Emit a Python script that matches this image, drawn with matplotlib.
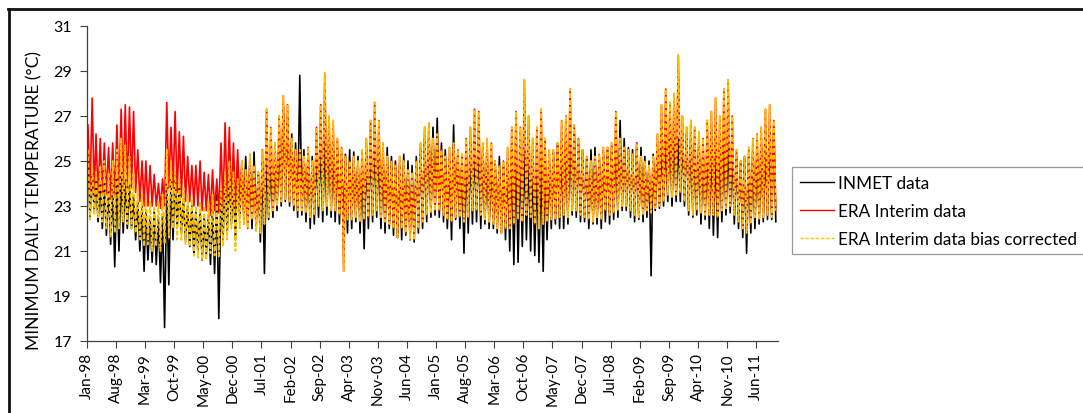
import numpy as np
import matplotlib
matplotlib.use("Agg")
import matplotlib.pyplot as plt
from matplotlib.lines import Line2D

plt.rcParams['font.family'] = ['Lato', 'DejaVu Sans']

# monthly envelope (high / low), Jan-1998 .. Oct-2011
inmet_hi = [
    25.2, 24.5, 24.2, 24.0, 24.0, 23.8, 24.0, 24.3, 24.5, 24.2, 24.0, 23.5,
    23.2, 23.0, 22.8, 22.5, 22.8, 22.5, 22.6, 24.0, 24.2, 24.5, 24.0, 23.3,
    23.0, 23.0, 22.8, 22.8, 22.5, 22.6, 23.0, 23.5, 23.8, 24.5, 24.3, 24.0,
    25.0, 24.8, 25.2, 25.0, 25.4, 24.5, 25.0,
    25.5, 25.0, 25.2, 26.0, 27.4, 26.9, 26.2, 25.8, 28.8, 25.5, 25.4, 25.2,
    25.5, 25.8, 26.0, 26.2, 25.8, 25.5, 25.3, 25.3, 25.5, 25.4, 25.2, 25.0,
    25.5, 25.8, 26.0, 25.5, 25.3, 25.6, 25.2, 25.0, 24.8, 25.3, 25.0, 24.8,
    25.2, 25.5, 26.0, 26.2, 26.5,
    26.9, 25.8, 25.5, 25.0, 26.6, 25.3, 25.0, 25.2, 25.5, 25.8, 26.0, 25.6,
    25.2, 25.0, 25.0, 25.2, 24.8, 25.0, 25.3, 25.5, 25.2, 25.5, 25.2, 24.8,
    24.6, 25.0, 25.2, 25.0, 25.4, 25.8, 25.5, 26.0, 26.2, 26.3, 25.8, 25.5,
    25.2, 25.5, 25.6, 25.2, 25.4,
    25.5, 25.6, 25.8, 26.8, 26.0, 25.6, 25.5, 25.8, 25.6, 25.2, 25.0, 25.3,
    25.5, 25.8, 26.0, 26.5, 26.3, 26.0, 26.2, 26.2, 26.0, 25.8, 25.8, 25.5,
    25.6, 25.8, 25.5, 25.8, 26.0, 25.8, 25.5, 25.2, 25.0, 25.2, 25.3, 25.5,
    25.6, 25.8, 25.6, 26.2, 26.5,
]
inmet_lo = [
    22.5, 22.8, 22.3, 22.0, 21.7, 21.3, 20.3, 21.0, 21.8, 22.0, 22.0, 21.5,
    21.0, 20.1, 20.6, 20.5, 20.4, 19.6, 17.6, 19.5, 21.5, 22.0, 21.8, 21.5,
    21.2, 20.8, 21.0, 20.6, 20.8, 20.4, 20.0, 18.0, 21.5, 21.8, 22.2, 21.5,
    22.5, 22.5, 22.3, 22.0, 22.3, 21.4, 20.0,
    22.4, 22.5, 22.8, 23.0, 23.2, 23.0, 22.8, 22.5, 22.6, 22.3, 22.0, 22.2,
    22.5, 22.3, 22.6, 22.5, 22.3, 22.2, 22.0, 21.8, 22.0, 22.3, 21.8, 21.1,
    22.0, 22.3, 22.5, 22.0, 21.8, 22.0, 21.7, 21.6, 21.5, 21.7, 21.5, 21.4,
    21.8, 22.0, 22.3, 22.5, 22.6,
    22.5, 22.3, 22.0, 21.5, 22.4, 22.0, 20.9, 21.8, 22.2, 22.3, 22.0, 22.2,
    22.0, 22.0, 21.8, 21.8, 21.5, 21.0, 20.4, 20.5, 21.2, 21.5, 21.0, 20.8,
    20.5, 20.1, 21.5, 22.0, 22.2, 22.0, 22.0, 22.2, 22.6, 22.5, 22.3, 22.3,
    22.0, 22.2, 22.2, 22.0, 22.3,
    22.2, 22.4, 22.5, 22.8, 22.8, 22.5, 22.3, 22.4, 22.3, 22.5, 19.9, 22.8,
    22.9, 23.0, 23.2, 23.0, 23.2, 23.2, 23.0, 22.6, 22.5, 22.6, 22.2, 22.4,
    22.0, 21.7, 21.6, 22.3, 22.6, 22.7, 22.2, 22.0, 21.6, 20.9, 21.8, 22.0,
    22.2, 22.3, 22.4, 22.4, 22.3,
]

corr_hi = [
    25.5, 24.8, 24.5, 24.8, 25.0, 24.5, 25.0, 25.5, 26.0, 25.7, 25.2, 24.5,
    23.8, 23.5, 23.4, 23.2, 23.0, 23.2, 23.5, 25.5, 25.0, 24.5, 24.2, 23.8,
    23.5, 23.3, 23.0, 23.2, 23.0, 23.2, 23.5, 23.2, 23.8, 24.5, 25.0, 24.5,
    24.2, 25.0, 24.6, 25.3, 24.8, 24.5, 25.5,
    27.3, 26.5, 25.8, 27.0, 27.9, 27.5, 26.0, 25.5, 25.5, 25.2, 25.6, 25.0,
    26.5, 27.5, 28.9, 27.0, 26.8, 26.0, 25.6, 25.2, 25.0, 25.2, 25.0, 25.5,
    26.0, 26.8, 27.6, 26.8, 25.8, 25.2, 25.0, 24.8, 25.2, 25.0, 24.6, 24.5,
    25.0, 25.8, 26.5, 26.7, 26.0,
    26.2, 25.5, 25.2, 25.6, 25.8, 25.5, 25.3, 26.0, 26.5, 27.3, 27.2, 25.8,
    26.0, 25.8, 25.0, 24.8, 25.0, 25.6, 26.5, 27.2, 26.5, 28.6, 27.0, 26.0,
    26.5, 27.3, 26.0, 25.5, 25.5, 25.8, 26.8, 27.0, 28.2, 26.6, 26.0, 25.5,
    25.2, 25.0, 25.2, 25.3, 25.6,
    25.6, 25.8, 27.2, 26.0, 25.6, 25.5, 25.3, 25.8, 25.2, 25.0, 24.8, 25.2,
    26.2, 27.5, 28.2, 27.6, 28.0, 29.7, 27.0, 26.5, 26.8, 26.5, 26.3, 26.0,
    26.8, 27.2, 27.8, 27.0, 28.2, 28.6, 27.0, 25.5, 25.0, 25.2, 25.6, 26.0,
    26.2, 26.5, 27.3, 27.5, 26.8,
]
corr_lo = [
    22.4, 22.6, 22.5, 22.3, 22.0, 21.6, 21.8, 22.0, 22.3, 22.2, 22.0, 21.8,
    21.5, 21.2, 21.3, 21.0, 21.2, 21.0, 21.3, 21.6, 22.0, 21.5, 21.5, 21.3,
    21.2, 20.8, 20.7, 20.6, 20.6, 20.9, 20.8, 20.7, 21.2, 21.5, 22.0, 21.0,
    22.0, 22.2, 22.0, 22.4, 21.9, 21.8, 22.2,
    22.5, 22.8, 23.0, 23.2, 23.3, 23.2, 23.0, 22.8, 22.8, 22.7, 22.5, 22.6,
    23.0, 22.8, 23.0, 22.8, 22.8, 22.6, 20.1, 22.4, 22.4, 22.5, 22.3, 22.4,
    22.5, 22.6, 22.8, 22.5, 22.3, 22.2, 22.0, 21.6, 22.0, 21.8, 21.5, 21.5,
    22.0, 22.3, 22.6, 22.7, 22.8,
    22.8, 22.6, 22.4, 22.3, 22.5, 22.5, 22.3, 22.5, 22.8, 22.8, 22.6, 22.4,
    22.3, 22.2, 22.0, 21.8, 22.0, 22.0, 22.2, 22.4, 22.3, 22.6, 22.5, 22.2,
    22.0, 22.2, 22.3, 22.4, 22.4, 22.5, 22.6, 22.5, 22.8, 22.8, 22.6, 22.5,
    22.4, 22.3, 22.5, 22.4, 22.8,
    22.6, 22.7, 22.8, 23.0, 23.0, 22.8, 22.6, 22.5, 22.6, 22.8, 22.7, 22.9,
    23.0, 23.2, 23.5, 23.4, 23.5, 23.6, 23.2, 22.8, 22.6, 22.8, 22.7, 22.6,
    22.6, 22.6, 22.5, 22.8, 22.9, 23.0, 22.6, 22.3, 22.0, 21.8, 22.2, 22.5,
    22.4, 22.5, 22.6, 22.5, 22.8,
]

# ERA Interim sits above the corrected series until end of 2000, then overlaps it
era_hi_early = [
    26.6, 27.8, 26.2, 26.0, 25.8, 25.6, 25.8, 26.6, 27.3, 27.5, 27.4, 27.2,
    25.5, 25.0, 25.0, 24.8, 24.4, 24.0, 24.2, 27.6, 26.5, 27.2, 26.3, 26.1,
    25.2, 24.8, 24.8, 25.0, 24.5, 24.4, 24.6, 24.2, 25.8, 26.7, 26.5, 25.8,
    25.5,
]
era_lo_early = [
    23.6, 23.5, 23.4, 23.5, 23.5, 23.3, 23.4, 23.5, 23.6, 23.8, 23.8, 23.6,
    23.2, 23.0, 23.0, 23.0, 23.0, 22.9, 23.0, 23.8, 23.8, 23.6, 23.4, 23.2,
    23.2, 23.0, 23.0, 22.8, 22.8, 22.6, 22.8, 22.7, 23.0, 23.2, 23.0, 22.9,
    23.0,
]
era_hi = era_hi_early + corr_hi[len(era_hi_early):]
era_lo = era_lo_early + corr_lo[len(era_lo_early):]

tick_labels = ['Jan-98', 'Aug-98', 'Mar-99', 'Oct-99', 'May-00', 'Dec-00',
               'Jul-01', 'Feb-02', 'Sep-02', 'Apr-03', 'Nov-03', 'Jun-04',
               'Jan-05', 'Aug-05', 'Mar-06', 'Oct-06', 'May-07', 'Dec-07',
               'Jul-08', 'Feb-09', 'Sep-09', 'Apr-10', 'Nov-10', 'Jun-11']


def zigzag(hi, lo):
    months = np.datetime64('1998-01') + np.arange(len(hi))
    days = months.astype('datetime64[D]')
    x = np.empty(2 * len(hi), dtype='datetime64[D]')
    y = np.empty(2 * len(hi))
    x[0::2] = days + 7
    x[1::2] = days + 22
    y[0::2] = hi
    y[1::2] = lo
    return x, y


fig = plt.figure(figsize=(10.83, 4.14), dpi=100)
ax = fig.add_axes([87 / 1083, 1 - 342 / 414, (778 - 87) / 1083, (342 - 27) / 414])

xk, yk = zigzag(inmet_hi, inmet_lo)
xe, ye = zigzag(era_hi, era_lo)
xc, yc = zigzag(corr_hi, corr_lo)

ax.plot(xk, yk, color='black', lw=1.2, label='INMET data')
ax.plot(xe, ye, color='#ff0000', lw=1.2, label='ERA Interim data')
ax.plot(xc, yc, color='#ffc000', lw=1.3, linestyle=(0, (2.5, 1.2)),
        label='ERA Interim data bias corrected')

ax.set_ylim(17, 31)
ax.set_yticks(np.arange(17, 32, 2))
ax.set_xlim(np.datetime64('1998-01-01'), np.datetime64('2011-11-08'))
tick_pos = (np.datetime64('1998-01') + 7 * np.arange(len(tick_labels))).astype('datetime64[D]')
ax.set_xticks(tick_pos)
ax.set_xticklabels(tick_labels, rotation=90, fontsize=11)
ax.tick_params(axis='y', labelsize=11.5, length=5, color='#404040', pad=6)
ax.tick_params(axis='x', length=5, color='#404040', pad=3)

for side in ['top', 'right']:
    ax.spines[side].set_visible(False)
for side in ['left', 'bottom']:
    ax.spines[side].set_color('#404040')
    ax.spines[side].set_linewidth(0.9)

ax.set_ylabel('MINIMUM DAILY TEMPERATURE (°C)', fontsize=12.5)
ax.yaxis.set_label_coords(-0.065, 0.45)

leg = fig.legend(loc='upper left', bbox_to_anchor=(792 / 1083, 1 - 168 / 414),
                 fontsize=12.3, frameon=True, fancybox=False, handlelength=2.0,
                 handletextpad=0.25, labelspacing=0.7, borderaxespad=0,
                 borderpad=0.45)
leg.get_frame().set_edgecolor('#808080')
leg.get_frame().set_linewidth(0.9)
for line in leg.get_lines():
    line.set_linewidth(1.0)

# outer chart frame (only top and left edges fall inside the picture)
fig.add_artist(Line2D([8 / 1083, 1.0], [1 - 10 / 414, 1 - 10 / 414],
                      transform=fig.transFigure, color='#111111', lw=2))
fig.add_artist(Line2D([9 / 1083, 9 / 1083], [0, 1 - 10 / 414],
                      transform=fig.transFigure, color='#111111', lw=2))

fig.savefig('out.png', dpi=100)
